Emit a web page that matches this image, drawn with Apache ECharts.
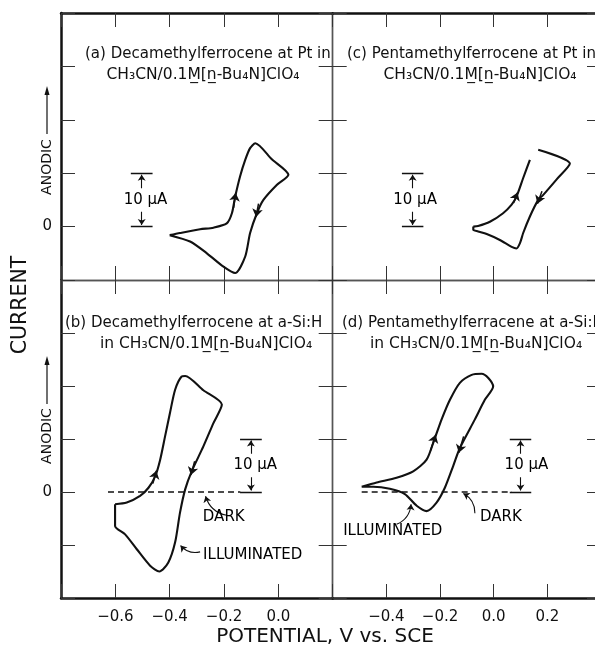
<!DOCTYPE html>
<html><head><meta charset="utf-8">
<script src="https://cdn.jsdelivr.net/npm/echarts@6/dist/echarts.min.js"></script>
<style>html,body{margin:0;padding:0;background:#fff}#c{width:595px;height:647px}</style>
</head><body><div id="c"></div>
<script>
const FONT = 'DejaVu Sans';
const INK = '#111';

// ---------------- data (V vs. SCE, current in µA) ----------------
const leftXTickLabels  = ['-0.6', '-0.4', '-0.2', '0.0'];
const rightXTickLabels = ['-0.4', '-0.2', '0.0', '0.2'];
const yTickLabels = ['0'];

// (a) Decamethylferrocene at Pt
const panelA = [[-0.40,-1.6],[-0.362,-1.2],[-0.288,-0.5],[-0.239,-0.2],[-0.190,0.6],[-0.171,2.5],[-0.159,5.6],
  [-0.141,9.4],[-0.122,12.5],[-0.104,14.7],[-0.085,15.6],[-0.024,12.6],[0.037,9.7],[-0.006,7.8],[-0.055,5.0],
  [-0.079,2.5],[-0.104,-1.2],[-0.122,-5.6],[-0.159,-8.7],[-0.202,-7.5],[-0.263,-5.0],[-0.325,-2.8],[-0.40,-1.6]];
// (c) Pentamethylferrocene at Pt
const panelCForward = [[-0.076,0.0],[-0.058,0.1],[-0.014,0.9],[0.035,2.5],[0.067,4.1],[0.085,5.6],[0.110,9.1],[0.135,12.5]];
const panelCReverse = [[0.166,14.4],[0.284,11.8],[0.234,8.8],[0.184,5.9],[0.166,5.0],[0.135,1.9],[0.110,-1.2],
  [0.098,-3.1],[0.085,-4.1],[0.067,-3.8],[0.023,-2.5],[-0.026,-1.4],[-0.058,-0.9],[-0.076,-0.6],[-0.076,0.0]];
// (b) Decamethylferrocene at a-Si:H (illuminated) + dark
const panelB = [[-0.601,-2.3],[-0.558,-2.0],[-0.509,-0.75],[-0.478,0.8],[-0.453,3.0],[-0.435,6.1],[-0.417,10.5],
  [-0.399,14.9],[-0.380,19.3],[-0.356,21.8],[-0.343,21.9],[-0.276,19.2],[-0.208,16.5],[-0.239,13.0],[-0.276,8.6],
  [-0.319,3.9],[-0.343,0.5],[-0.362,-3.9],[-0.380,-9.5],[-0.405,-13.3],[-0.438,-15.0],[-0.472,-13.9],[-0.521,-10.8],
  [-0.564,-8.0],[-0.601,-6.4],[-0.601,-2.3]];
const panelBDark = [[-0.627,0],[-0.14,0]];
// (d) Pentamethylferrocene at a-Si:H (illuminated) + dark
const panelD = [[-0.492,1.0],[-0.436,1.8],[-0.362,2.7],[-0.300,3.9],[-0.250,6.1],[-0.221,9.9],[-0.194,13.7],
  [-0.163,17.4],[-0.126,20.6],[-0.082,22.1],[-0.045,22.3],[-0.020,21.5],[-0.002,19.9],[-0.033,17.4],[-0.070,13.7],
  [-0.126,8.3],[-0.151,4.9],[-0.182,0.8],[-0.213,-2.0],[-0.250,-3.6],[-0.287,-2.6],[-0.331,-0.4],[-0.387,0.6],
  [-0.449,1.0],[-0.492,1.0]];
const panelDDark = [[-0.492,0],[0.068,0]];

// sweep-direction arrows [from, to]
const sweepArrowsA = [[[-0.165,3.5],[-0.157,6.3]], [[-0.073,4.3],[-0.082,1.8]]];
const sweepArrowsC = [[[0.074,4.4],[0.089,6.4]], [[0.180,6.6],[0.163,4.3]]];
const sweepArrowsB = [[[-0.462,1.6],[-0.449,4.0]], [[-0.308,5.8],[-0.322,3.2]]];
const sweepArrowsD = [[[-0.236,7.8],[-0.216,10.8]], [[-0.112,10.5],[-0.130,7.4]]];

// 10 µA scale bars: bar centre potential, label centre potential
const scaleBarA = [-0.503, -0.489];
const scaleBarC = [-0.302, -0.293];
const scaleBarB = [-0.101, -0.085];
const scaleBarD = [0.100, 0.122];
const scaleBarSpan = [0, 10];

// annotation texts [x, y, text, align] and pointer curves [from, to]
const notesB = [[-0.278,-4.8,'DARK','left'],[-0.277,-12.0,'ILLUMINATED','left']];
const notesBPointers = [[[-0.190,-4.4],[-0.268,-0.8]], [[-0.288,-11.3],[-0.360,-10.1]]];
const notesD = [[-0.051,-4.8,'DARK','left'],[-0.561,-7.4,'ILLUMINATED','left']];
const notesDPointers = [[[-0.070,-4.0],[-0.113,-0.3]], [[-0.362,-6.1],[-0.308,-2.3]]];

// ---------------- layout ----------------
const grids = [
  {left:61,    top:13,  width:271.7, height:267, xmin:-0.8, xmax:0.2, ymin:-10, ymax:40, outer:{left:1,top:1}},
  {left:332.7, top:13,  width:268.3, height:267, xmin:-0.6, xmax:0.4, ymin:-10, ymax:40, outer:{right:1,top:1}},
  {left:61,    top:280, width:271.7, height:318, xmin:-0.8, xmax:0.2, ymin:-20, ymax:40, outer:{left:1,bottom:1}},
  {left:332.7, top:280, width:268.3, height:318, xmin:-0.6, xmax:0.4, ymin:-20, ymax:40, outer:{right:1,bottom:1}}
];

function lineStyleFor(isOuter){ return {color: isOuter ? INK : '#555', width: isOuter ? 2.5 : 1.4}; }
function fmtX(labels){
  return v => { let r = Math.round(v*10)/10; if (r === 0) r = 0; const s = r.toFixed(1); return labels.includes(s) ? s.replace('-', '\u2212') : ''; };
}
const xAxes = [], yAxes = [];
grids.forEach((g, i) => {
  ['bottom','top'].forEach(pos => {
    const showLab = pos === 'bottom' && i >= 2;
    xAxes.push({
      type:'value', gridIndex:i, position:pos, min:g.xmin, max:g.xmax, interval:0.2,
      axisLine:{show:true, onZero:false, lineStyle:lineStyleFor(!!g.outer[pos])},
      axisTick:{show:true, inside:true, length:14, lineStyle:{color:'#333', width:1}},
      axisLabel:{show:showLab, formatter: fmtX(i === 2 ? leftXTickLabels : rightXTickLabels),
        fontFamily:FONT, fontSize:15, color:INK, margin:12, showMinLabel:true, showMaxLabel:true, hideOverlap:false},
      splitLine:{show:false}
    });
  });
  ['left','right'].forEach(pos => {
    const showLab = pos === 'left' && (i === 0 || i === 2);
    yAxes.push({
      type:'value', gridIndex:i, position:pos, min:g.ymin, max:g.ymax, interval:10,
      axisLine:{show:true, onZero:false, lineStyle:lineStyleFor(!!g.outer[pos])},
      axisTick:{show:true, inside:true, length:14, lineStyle:{color:'#333', width:1}},
      axisLabel:{show:showLab, formatter: v => yTickLabels.includes(String(v)) ? String(v) : '',
        fontFamily:FONT, fontSize:15, color:INK, margin:9},
      splitLine:{show:false}
    });
  });
});

const series = [];
function curve(gi, data, dashed){
  series.push({type:'line', xAxisIndex:2*gi, yAxisIndex:2*gi, data, showSymbol:false, symbol:'none',
    smooth: dashed ? false : 0.25, silent:true, animation:false,
    lineStyle:{color:INK, width: dashed ? 1.4 : 2.1, type: dashed ? [6,4] : 'solid'}, z:3});
}
function arrows(gi, pairs, curveness, width, size){
  series.push({type:'lines', coordinateSystem:'cartesian2d', xAxisIndex:2*gi, yAxisIndex:2*gi, polyline:false,
    symbol:['none','arrow'], symbolSize:size, silent:true, animation:false, z:4,
    lineStyle:{color:INK, width, curveness, opacity:1},
    data: pairs.map(p => ({coords:p}))});
}
function plain(gi, pairs, width){
  series.push({type:'lines', coordinateSystem:'cartesian2d', xAxisIndex:2*gi, yAxisIndex:2*gi,
    symbol:['none','none'], silent:true, animation:false, z:4,
    lineStyle:{color:INK, width, opacity:1}, data: pairs.map(p => ({coords:p}))});
}
function texts(gi, items, size){
  series.push({type:'scatter', xAxisIndex:2*gi, yAxisIndex:2*gi, symbolSize:0, silent:true, animation:false, z:5,
    itemStyle:{color:INK, opacity:1},
    data: items.map(t => ({value:[t[0], t[1]], name:t[2], label:{align:t[3] || 'center'}})),
    label:{show:true, position:[0,0], formatter: p => p.name, fontFamily:FONT, fontSize:size, color:'#000',
      opacity:1, textBorderWidth:0, verticalAlign:'middle'}});
}
function scaleBar(gi, sb){
  const xc = sb[0], lo = scaleBarSpan[0], hi = scaleBarSpan[1], hw = 0.04;
  plain(gi, [[[xc-hw,hi],[xc+hw,hi]], [[xc-hw,lo],[xc+hw,lo]]], 1.3);
  arrows(gi, [[[xc,hi-2.8],[xc,hi-0.3]], [[xc,lo+2.8],[xc,lo+0.3]]], 0, 1.1, 6);
  texts(gi, [[sb[1], (lo+hi)/2, '10 \u03bcA', 'center']], 15);
}

curve(0, panelA);
curve(1, panelCForward); curve(1, panelCReverse);
curve(2, panelB); curve(2, panelBDark, true);
curve(3, panelD); curve(3, panelDDark, true);
arrows(0, sweepArrowsA, 0, 1.5, 8);
arrows(1, sweepArrowsC, 0, 1.5, 8);
arrows(2, sweepArrowsB, 0, 1.5, 8);
arrows(3, sweepArrowsD, 0, 1.5, 8);
scaleBar(0, scaleBarA); scaleBar(1, scaleBarC); scaleBar(2, scaleBarB); scaleBar(3, scaleBarD);
texts(2, notesB, 15); texts(3, notesD, 15);
arrows(2, notesBPointers, 0.3, 1.1, 6);
arrows(3, notesDPointers, -0.3, 1.1, 6);

// ---------------- static text / decorations ----------------
const sol = 'CH\u2083CN/0.1M\u0332[n\u0332-Bu\u2084N]ClO\u2084';
function gtext(x, y, text, size, align, rot){
  return {type:'text', x, y, rotation: rot || 0, z:10, silent:true,
    style:{text, fontFamily:FONT, fontSize:size, fill:INK, align: align || 'left', verticalAlign:'middle'}};
}
const graphics = [
  gtext(85, 54, '(a) Decamethylferrocene at Pt in', 15),
  gtext(203, 75, sol, 15.5, 'center'),
  gtext(347, 54, '(c) Pentamethylferrocene at Pt in', 15),
  gtext(480, 75, sol, 15.5, 'center'),
  gtext(65, 323, '(b) Decamethylferrocene at a-Si:H', 15),
  gtext(206, 344, 'in ' + sol, 15.5, 'center'),
  gtext(342, 323, '(d) Pentamethylferracene at a-Si:H', 15),
  gtext(476, 344, 'in ' + sol, 15.5, 'center'),
  gtext(47, 167, 'ANODIC', 14, 'center', Math.PI/2),
  gtext(47, 436, 'ANODIC', 14, 'center', Math.PI/2),
  gtext(21, 305, 'CURRENT', 20.5, 'center', Math.PI/2),
  gtext(325, 637, 'POTENTIAL, V vs. SCE', 20, 'center'),
  {type:'line', silent:true, shape:{x1:47, y1:134, x2:47, y2:93}, style:{stroke:INK, lineWidth:1.2}},
  {type:'polygon', silent:true, shape:{points:[[47,86],[44.5,95],[49.5,95]]}, style:{fill:INK}},
  {type:'line', silent:true, shape:{x1:47, y1:404, x2:47, y2:363}, style:{stroke:INK, lineWidth:1.2}},
  {type:'polygon', silent:true, shape:{points:[[47,356],[44.5,365],[49.5,365]]}, style:{fill:INK}}
];

const chart = echarts.init(document.getElementById('c'), null, {renderer:'canvas'});
chart.setOption({
  animation:false,
  backgroundColor:'#fff',
  grid: grids.map(g => ({left:g.left, top:g.top, width:g.width, height:g.height, containLabel:false, outerBoundsMode:'none', show:false})),
  xAxis: xAxes,
  yAxis: yAxes,
  series,
  graphic: graphics
});
</script></body></html>
